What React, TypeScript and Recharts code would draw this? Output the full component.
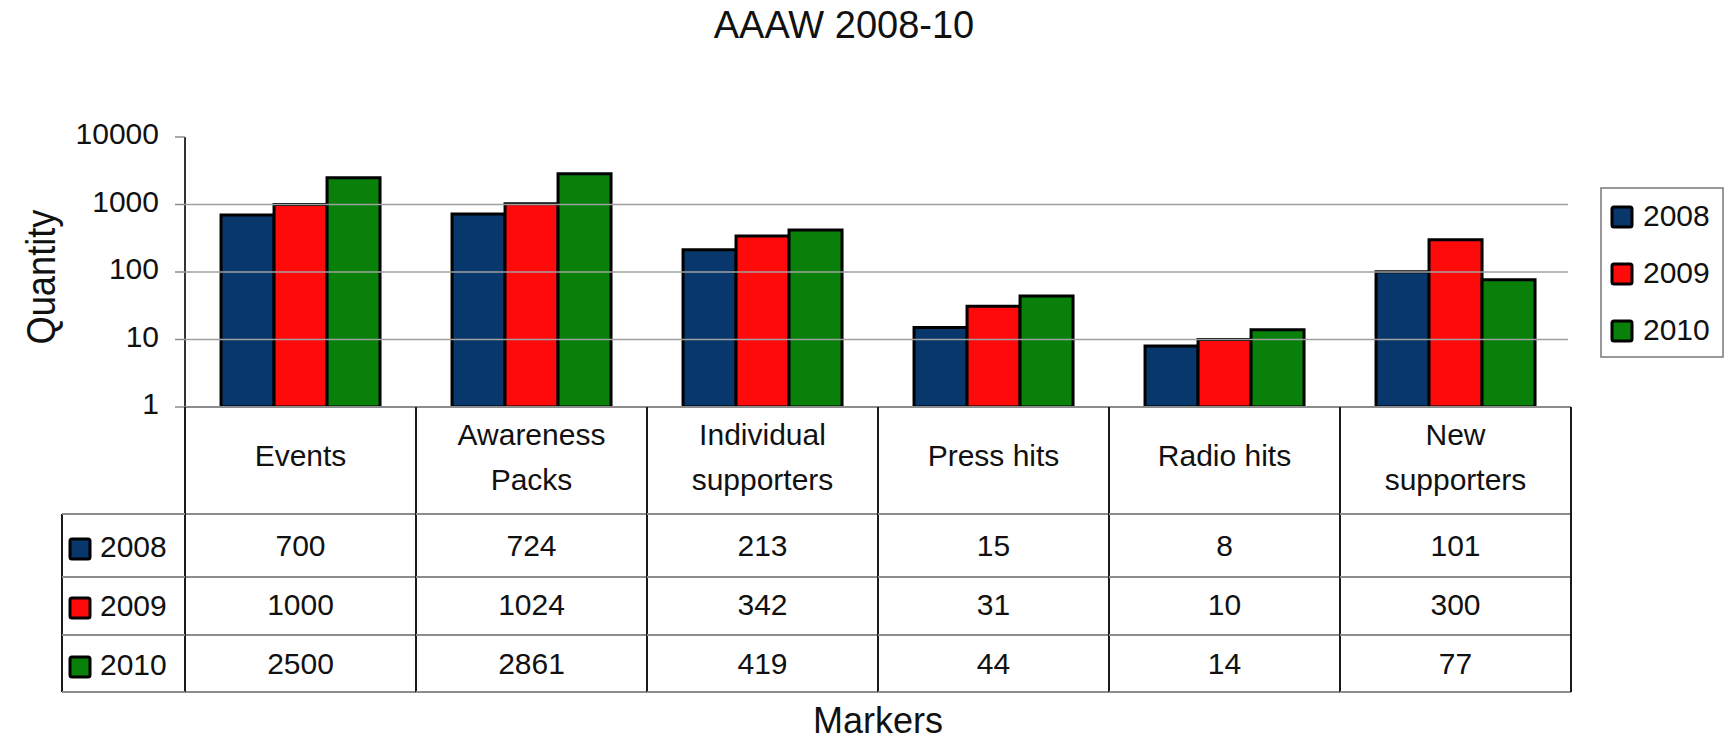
import React from "react";
import { BarChart, Bar, XAxis, YAxis } from "recharts";

const categories = [
  "Events",
  "Awareness\nPacks",
  "Individual\nsupporters",
  "Press hits",
  "Radio hits",
  "New\nsupporters",
];
const years = ["2008", "2009", "2010"];
const values2008 = [700, 724, 213, 15, 8, 101];
const values2009 = [1000, 1024, 342, 31, 10, 300];
const values2010 = [2500, 2861, 419, 44, 14, 77];
const yTicks = [1, 10, 100, 1000, 10000];
const gridValues = [10, 100, 1000];

const colors = ["#08376b", "#ff0a0a", "#08800a"];
const seriesValues = [values2008, values2009, values2010];

const data = categories.map((name, i) => ({
  name,
  y2008: values2008[i],
  y2009: values2009[i],
  y2010: values2010[i],
}));

const W = 1731;
const H = 741;
const PLOT_LEFT = 185;
const PLOT_RIGHT = 1571;
const PLOT_TOP = 137;
const PLOT_BOTTOM = 407;
const BAND = (PLOT_RIGHT - PLOT_LEFT) / categories.length;
const ROW_LINES = [514, 577, 635, 692];
const ROW_BASE = [556, 615, 674];
const FONT = "'Liberation Sans', Arial, sans-serif";
const TEXT = "#111";

// y tick: label plus the horizontal grid line for the inner decades
function YTick(props: any) {
  const { x, y, payload } = props;
  return (
    <g>
      {gridValues.includes(payload.value) && (
        <line x1={PLOT_LEFT} x2={PLOT_RIGHT - 3} y1={y} y2={y} stroke="#a0a0a0" strokeWidth={1.5} />
      )}
      <text x={x} y={y} dy={7} textAnchor="end" fontSize={30} fill={TEXT}>
        {payload.value}
      </text>
    </g>
  );
}

// x tick: one column of the data table under the plot
function TableColumn(props: any) {
  const { x, payload, index } = props;
  const i = payload?.index ?? index;
  const half = BAND / 2;
  const lines = String(payload.value).split("\n");
  const headerBase = lines.length === 1 ? [466] : [445, 490];
  const left = x - half;
  return (
    <g>
      {lines.map((l, k) => (
        <text key={k} x={x} y={headerBase[k]} textAnchor="middle" fontSize={30} fill={TEXT}>
          {l}
        </text>
      ))}
      {seriesValues.map((vals, r) => (
        <text key={r} x={x} y={ROW_BASE[r]} textAnchor="middle" fontSize={30} fill={TEXT}>
          {vals[i]}
        </text>
      ))}
      {ROW_LINES.map((ly) => (
        <line key={ly} x1={left} x2={x + half} y1={ly} y2={ly} stroke="#8c8c8c" strokeWidth={2} />
      ))}
      <line x1={x + half} x2={x + half} y1={PLOT_BOTTOM} y2={ROW_LINES[3]} stroke="#1a1a1a" strokeWidth={2} />
      {i === 0 && (
        <g>
          <line x1={left} x2={left} y1={PLOT_BOTTOM} y2={ROW_LINES[3]} stroke="#1a1a1a" strokeWidth={2} />
          <line x1={62} x2={62} y1={ROW_LINES[0]} y2={ROW_LINES[3]} stroke="#1a1a1a" strokeWidth={2} />
          {ROW_LINES.map((ly) => (
            <line key={ly} x1={62} x2={left} y1={ly} y2={ly} stroke="#8c8c8c" strokeWidth={2} />
          ))}
          {years.map((yr, r) => (
            <g key={yr}>
              <rect
                x={70}
                y={ROW_BASE[r] - 17}
                width={20}
                height={20}
                rx={2}
                fill={colors[r]}
                stroke="#000"
                strokeWidth={3}
              />
              <text x={100} y={ROW_BASE[r] + 1} fontSize={30} fill={TEXT}>
                {yr}
              </text>
            </g>
          ))}
        </g>
      )}
    </g>
  );
}

function QuantityLabel(props: any) {
  const { viewBox } = props;
  const cy = viewBox.y + viewBox.height / 2 + 5;
  const cx = 55;
  return (
    <text
      x={cx}
      y={cy}
      transform={`rotate(-90, ${cx}, ${cy})`}
      textAnchor="middle"
      fontSize={40}
      textLength={135}
      lengthAdjust="spacingAndGlyphs"
      fill={TEXT}
    >
      Quantity
    </text>
  );
}

export default function App() {
  return (
    <div style={{ position: "absolute", left: 0, top: 0, width: W, height: H, fontFamily: FONT, background: "#fff" }}>
      <div
        style={{
          position: "absolute",
          left: 0,
          top: 6,
          width: 1688,
          textAlign: "center",
          fontSize: 38,
          lineHeight: "38px",
          color: TEXT,
        }}
      >
        AAAW 2008-10
      </div>
      <BarChart
        width={W}
        height={H}
        data={data}
        margin={{ top: PLOT_TOP, right: W - PLOT_RIGHT, left: 0, bottom: 0 }}
        barCategoryGap="15.6%"
        barGap={0}
      >
        <YAxis
          width={PLOT_LEFT}
          scale="log"
          domain={[1, 10000]}
          ticks={yTicks}
          allowDataOverflow
          interval={0}
          tickSize={10}
          tickMargin={16}
          tickLine={{ stroke: "#8c8c8c", strokeWidth: 1.5 }}
          axisLine={{ stroke: "#333", strokeWidth: 2 }}
          tick={<YTick />}
          label={<QuantityLabel />}
        />
        <XAxis
          dataKey="name"
          height={H - PLOT_BOTTOM}
          interval={0}
          tickLine={false}
          axisLine={{ stroke: "#8c8c8c", strokeWidth: 2 }}
          tick={<TableColumn />}
          label={{ value: "Markers", position: "insideBottom", offset: 8, fontSize: 36, fill: TEXT }}
        />
        <Bar dataKey="y2008" fill={colors[0]} stroke="#000" strokeWidth={3} isAnimationActive={false} />
        <Bar dataKey="y2009" fill={colors[1]} stroke="#000" strokeWidth={3} isAnimationActive={false} />
        <Bar dataKey="y2010" fill={colors[2]} stroke="#000" strokeWidth={3} isAnimationActive={false} />
      </BarChart>
      <svg style={{ position: "absolute", left: 1600, top: 187 }} width={125} height={172}>
        <rect x={1} y={1} width={122} height={169} fill="#fff" stroke="#777" strokeWidth={1.5} />
        {years.map((yr, r) => (
          <g key={yr}>
            <rect
              x={12}
              y={20 + r * 57}
              width={20}
              height={20}
              rx={2}
              fill={colors[r]}
              stroke="#000"
              strokeWidth={3}
            />
            <text x={43} y={39 + r * 57} fontSize={30} fill={TEXT} fontFamily={FONT}>
              {yr}
            </text>
          </g>
        ))}
      </svg>
    </div>
  );
}
